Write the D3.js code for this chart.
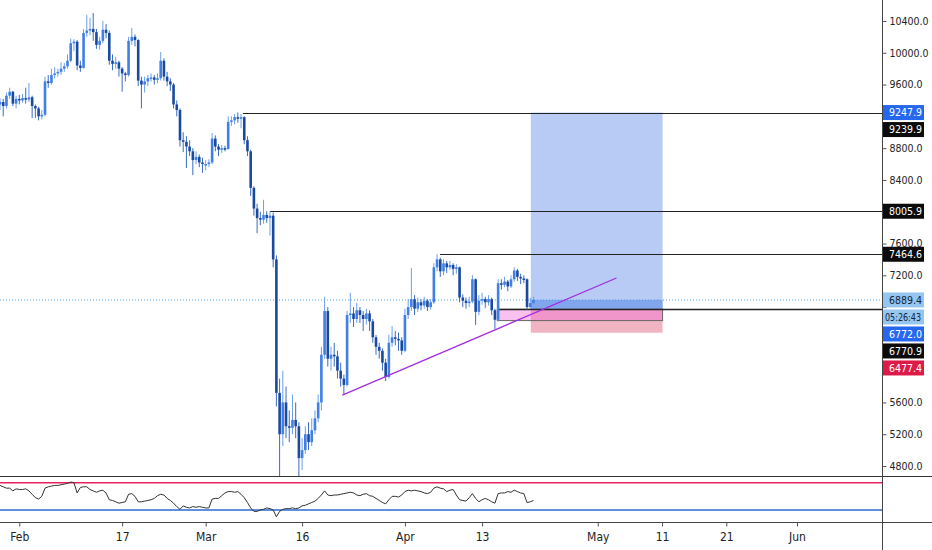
<!DOCTYPE html>
<html><head><meta charset="utf-8">
<script src="https://cdn.jsdelivr.net/npm/d3@7"></script>
<style>
body{margin:0;background:#fff}
svg{display:block}
text{font-family:"Liberation Sans Narrow","DejaVu Sans Condensed","Liberation Sans",sans-serif}
</style>
</head><body>
<svg id="c" width="932" height="550"></svg>
<script>
// ---------- DATA ----------
const candleStart = "2020-01-29T00:00:00Z";
const candleHours = 12;
const firstOpen = 9350;
const closes = [9380,9330,9460,9510,9360,9420,9400,9430,9410,9440,
9330,9300,9200,9220,9640,9620,9720,9740,9760,9800,
9830,9900,10120,10140,9840,9810,10250,10280,10300,10260,
10100,10150,10290,10250,9900,9860,9880,9800,9740,9720,
10150,10200,10160,9650,9600,9640,9680,9690,9660,9680,
9900,9700,9640,9600,9350,9280,8900,8880,8820,8760,
8650,8690,8620,8600,8600,8620,8920,8820,8780,8800,
8790,9130,9150,9190,9170,9190,8900,8760,8300,8040,
7920,7900,7960,7920,7950,7400,5720,5200,5600,5300,
5280,5380,5300,4900,5000,5200,5100,5250,5400,5600,
6200,6750,6150,6200,6180,6000,5900,5820,6700,6720,
6650,6760,6700,6650,6720,6620,6420,6300,6250,6100,
5920,6350,6420,6400,6380,6250,6700,6800,6900,6780,
6860,6820,6880,6800,6860,7300,7400,7250,7350,7300,
7330,7280,7300,6920,6880,6850,6870,7150,6740,6880,
6900,6860,6900,6760,6640,7100,7080,7120,7060,7150,
7260,7180,7160,7150,6800,6850,6889.4];
const highs = [9430,9420,9500,9560,9520,9460,9470,9480,9560,9620,
9460,9350,9320,9280,9700,9720,9800,9820,9800,9880,
9870,9980,10180,10170,10160,9900,10300,10480,10440,10500,
10300,10200,10400,10360,10280,9980,9950,9900,9820,9760,
10200,10310,10230,10170,9700,9700,9720,9740,9720,9740,
10010,9930,9760,9680,9620,9400,9300,9000,8950,8900,
8800,8760,8720,8680,8650,8660,8990,8960,8850,8840,
8830,9200,9200,9230,9248,9230,9200,8950,8780,8320,
8100,8000,8150,8006,8006,7990,7450,5900,6000,5800,
5500,5700,5600,5350,5150,5300,5350,5400,5500,5700,
6300,6930,6800,6300,6350,6250,6100,5950,6750,6980,
6800,6850,6800,6750,6780,6760,6650,6450,6350,6280,
6150,6450,6560,6500,6480,6420,6780,6900,7290,6950,
6920,6900,6930,6900,6900,7350,7465,7420,7400,7380,
7380,7350,7340,7310,6960,6920,6930,7200,7160,6950,
6980,6930,6950,6920,6780,7150,7150,7180,7140,7200,
7300,7280,7220,7200,7160,6920,6930];
const lows = [9280,9200,9300,9420,9330,9300,9350,9370,9360,9380,
9180,9180,9150,9160,9200,9560,9600,9680,9700,9720,
9760,9800,9880,10020,9780,9760,9800,10200,10220,10150,
10050,10040,10120,10180,9850,9780,9800,9700,9510,9640,
9700,10100,10080,9580,9300,9500,9580,9640,9600,9620,
9650,9650,9580,9520,9300,9200,8820,8750,8550,8700,
8460,8600,8560,8490,8520,8560,8600,8760,8700,8740,
8760,8780,9080,9100,9120,9050,8850,8700,8200,7950,
7730,7830,7850,7860,7700,7300,5550,4600,5050,5150,
5100,5200,5150,4650,4750,4950,5000,5050,5200,5350,
5500,6150,6050,6000,6050,5900,5800,5700,5800,6600,
6550,6600,6600,6500,6580,6500,6350,6200,6150,6000,
5870,5900,6300,6320,6250,6200,6230,6650,6750,6700,
6740,6760,6780,6750,6770,6840,7250,7180,7200,7230,
7270,7200,7220,6860,6800,6780,6800,6850,6575,6700,
6830,6790,6820,6700,6525,6620,7020,7050,7000,7040,
7120,7130,7090,7100,6770,6780,6830];
const rsi = [66,64,62,62,58,61,60,60,61,58,
53,48,46,50,62,64,65,66,66,67,
68,69,71,70,55,63,64,64,60,58,
56,58,59,55,45,44,42,40,41,42,
53,54,50,42,42,43,44,45,47,51,
53,52,47,44,40,35,31,36,34,33,
35,34,35,34,33,33,46,47,47,51,
55,57,57,56,57,53,48,41,33,28,
28,30,31,33,32,30,20,28,31,32,
32,33,32,33,36,37,39,41,43,47,
52,58,52,51,52,52,53,54,55,56,
55,52,51,53,54,51,50,47,44,41,
39,45,50,50,49,52,57,59,58,59,
58,57,55,54,56,62,64,62,61,57,
59,60,52,45,44,43,48,54,47,42,
45,47,45,42,40,54,55,55,57,56,
59,57,55,54,41,42,44];
const rsiLevels = [70, 30];

const priceTicks = [4800,5200,5600,6000,6400,6800,7200,7600,8000,8400,8800,9200,9600,10000,10400];
const timeTickDates = ["2020-02-01","2020-02-17","2020-03-01","2020-03-16","2020-04-01","2020-04-13","2020-05-01","2020-05-11","2020-05-21","2020-06-01"];
const timeTickLabels = ["Feb","17","Mar","16","Apr","13","May","11","21","Jun"];

// horizontal levels (start date, price)
const levelStarts = ["2020-03-06T19:00:00Z","2020-03-11T00:00:00Z","2020-04-06T11:00:00Z","2020-04-15T09:00:00Z"];
const levelPrices = [9247.9, 8005.9, 7464.6, 6772.0];
const lastPrice = 6889.4;

// trend line
const trendDates = ["2020-03-22T06:00:00Z","2020-05-03T22:00:00Z"];
const trendPrices = [5693, 7166];

// long position tool
const posDates = ["2020-04-20T14:00:00Z","2020-05-11T02:00:00Z"];
const posTarget = 9247.9, posEntry = 6772.0, posStop = 6477.4;
// user zone rectangle
const zoneDates = ["2020-04-15T09:00:00Z","2020-05-11T02:00:00Z"];
const zonePrices = [6772.0, 6630];

// price tags on axis
const tagTexts  = ["9247.9","9239.9","8005.9","7464.6","6889.4","05:26:43","6772.0","6770.9","6477.4"];
const tagPrices = [9247.9, 9239.9, 8005.9, 7464.6, 6889.4, 6889.4, 6772.0, 6770.9, 6477.4];
const tagKinds  = ["blue","black","black","black","light","light","blue","black","red"];

// ---------- CHART ----------
const svg = d3.select("#c");
const W = 932, H = 550, plotR = 882, mainB = 476, rsiB = 522;
const x = d3.scaleUtc().domain([new Date("2020-02-01T00:00:00Z"), new Date("2020-06-01T00:00:00Z")]).range([19.3, 797]);
const y = d3.scaleLinear().domain([4800, 10400]).range([466, 21]);
const yr = d3.scaleLinear().domain([30, 70]).range([510, 482.7]);

const t0 = new Date(candleStart).getTime();
const candles = closes.map((c, i) => ({
  date: new Date(t0 + i * candleHours * 3600e3),
  open: i ? closes[i - 1] : firstOpen,
  close: c, high: highs[i], low: lows[i], rsi: rsi[i]
}));

svg.append("rect").attr("width", W).attr("height", H).attr("fill", "#fff");
const defs = svg.append("defs");
defs.append("clipPath").attr("id", "mainClip").append("rect").attr("x", 0).attr("y", 0).attr("width", plotR).attr("height", mainB);

const main = svg.append("g").attr("clip-path", "url(#mainClip)");

// position tool
const px0 = x(new Date(posDates[0])), px1 = x(new Date(posDates[1]));
main.append("rect").attr("x", px0).attr("width", px1 - px0)
  .attr("y", y(posTarget)).attr("height", y(posEntry) - y(posTarget)).attr("fill", "#b7cbf4");
main.append("rect").attr("x", px0).attr("width", px1 - px0)
  .attr("y", y(lastPrice)).attr("height", y(posEntry) - y(lastPrice)).attr("fill", "#82a6ec");
main.append("rect").attr("x", px0).attr("width", px1 - px0)
  .attr("y", y(posEntry)).attr("height", y(posStop) - y(posEntry)).attr("fill", "#f0b4c2");
// zone rect
const zx0 = x(new Date(zoneDates[0])), zx1 = x(new Date(zoneDates[1]));
main.append("rect").attr("x", zx0).attr("width", zx1 - zx0)
  .attr("y", y(zonePrices[0])).attr("height", y(zonePrices[1]) - y(zonePrices[0]))
  .attr("fill", "rgba(240,110,215,0.42)").attr("stroke", "#666").attr("stroke-width", 1);

// last price dotted line
main.append("line").attr("x1", 0).attr("x2", plotR).attr("y1", y(lastPrice)).attr("y2", y(lastPrice))
  .attr("stroke", "#4aa3e6").attr("stroke-width", 1).attr("stroke-dasharray", "1,2");

// horizontal levels
levelPrices.forEach((p, i) => {
  main.append("line").attr("x1", x(new Date(levelStarts[i]))).attr("x2", plotR)
    .attr("y1", Math.round(y(p)) + 0.5).attr("y2", Math.round(y(p)) + 0.5)
    .attr("stroke", "#222").attr("stroke-width", i === 3 ? 1.4 : 1);
});

// candles
const upC = "#3f7fe6", dnC = "#1a4aa0";
const cg = main.append("g");
cg.selectAll("line.w").data(candles).join("line").attr("class", "w")
  .attr("x1", d => x(d.date)).attr("x2", d => x(d.date))
  .attr("y1", d => y(d.high)).attr("y2", d => y(d.low))
  .attr("stroke", d => d.close >= d.open ? "#6a9ff0" : "#3a6cc4").attr("stroke-width", 1);
cg.selectAll("rect.b").data(candles).join("rect").attr("class", "b")
  .attr("x", d => x(d.date) - 1.3).attr("width", 2.6)
  .attr("y", d => y(Math.max(d.open, d.close)))
  .attr("height", d => Math.max(1.5, Math.abs(y(d.open) - y(d.close))))
  .attr("fill", d => d.close >= d.open ? upC : dnC);

// trend line
main.append("line")
  .attr("x1", x(new Date(trendDates[0]))).attr("y1", y(trendPrices[0]))
  .attr("x2", x(new Date(trendDates[1]))).attr("y2", y(trendPrices[1]))
  .attr("stroke", "#a42ee0").attr("stroke-width", 1.3);

// RSI panel
rsiLevels.forEach((lv, i) => {
  svg.append("line").attr("x1", 0).attr("x2", plotR).attr("y1", yr(lv)).attr("y2", yr(lv))
    .attr("stroke", i === 0 ? "#e3245c" : "#2a6ad2").attr("stroke-width", 1.6);
});
svg.append("path").datum(candles)
  .attr("d", d3.line().x(d => x(d.date)).y(d => yr(d.rsi)))
  .attr("fill", "none").attr("stroke", "#333").attr("stroke-width", 1);

// separators
svg.append("line").attr("x1", 0).attr("x2", W).attr("y1", mainB + 0.5).attr("y2", mainB + 0.5).attr("stroke", "#333");
svg.append("line").attr("x1", 0).attr("x2", W).attr("y1", rsiB + 0.5).attr("y2", rsiB + 0.5).attr("stroke", "#444");
svg.append("line").attr("x1", plotR + 0.5).attr("x2", plotR + 0.5).attr("y1", 0).attr("y2", H).attr("stroke", "#444");

// price tag layout (stacked so they don't collide)
const tagH = 15, tagGap = 2;
let lastBottom = -Infinity;
const tags = tagTexts.map((t, i) => ({t, p: tagPrices[i], k: tagKinds[i]}));
tags.forEach(tg => {
  let cy = y(tg.p);
  if (cy - tagH / 2 < lastBottom + tagGap) cy = lastBottom + tagGap + tagH / 2;
  tg.cy = cy; lastBottom = cy + tagH / 2;
});
// a tick label is hidden when a tag box covers its centre
const covered = v => tags.some(tg => Math.abs(y(v) - tg.cy) < tagH / 2 + 1.5);

// price axis
const ya = svg.append("g").attr("transform", `translate(${plotR + 0.5},0)`)
  .call(d3.axisRight(y).tickValues(priceTicks).tickFormat(d => d.toFixed(1)).tickSize(4).tickPadding(3));
ya.select(".domain").remove();
ya.selectAll("line").attr("stroke", "#555");
ya.selectAll("text").attr("fill", "#222").style("font-size", "10.5px");
ya.selectAll(".tick").filter(d => covered(d)).select("text").remove();

// time axis
const xa = svg.append("g").attr("transform", `translate(0,${rsiB + 0.5})`)
  .call(d3.axisBottom(x).tickValues(timeTickDates.map(d => new Date(d + "T00:00:00Z")))
    .tickFormat((d, i) => timeTickLabels[i]).tickSize(4).tickPadding(6));
xa.select(".domain").remove();
xa.selectAll("line").attr("stroke", "#555");
xa.selectAll("text").attr("fill", "#222").style("font-size", "12px");

// price tags
const kindBg = {blue: "#2667f0", black: "#0b0b0b", light: "#94c6f0", red: "#de1a48"};
const kindFg = {blue: "#fff", black: "#fff", light: "#13233a", red: "#fff"};
const tgG = svg.append("g");
tags.forEach(tg => {
  tgG.append("rect").attr("x", plotR + 1).attr("y", tg.cy - tagH / 2).attr("width", 41).attr("height", tagH)
    .attr("fill", kindBg[tg.k]);
  const isTime = tg.t.includes(":");
  const tx = tgG.append("text").attr("x", isTime ? plotR + 3 : plotR + 7).attr("y", tg.cy).attr("dy", "0.36em")
    .attr("fill", kindFg[tg.k]).style("font-size", "10.5px").text(tg.t);
  if (isTime) tx.attr("textLength", 36).attr("lengthAdjust", "spacingAndGlyphs");
});
</script>
</body></html>
